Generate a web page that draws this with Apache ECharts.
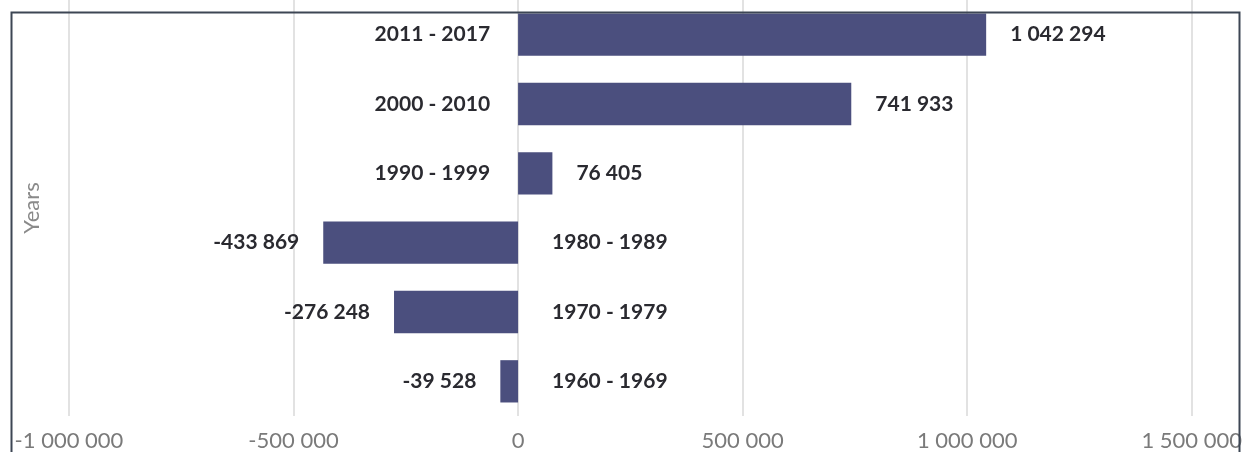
<!DOCTYPE html>
<html>
<head>
<meta charset="utf-8">
<script src="https://cdn.jsdelivr.net/npm/echarts@6/dist/echarts.min.js"></script>
<style>
html,body{margin:0;padding:0;background:#fff;}
#chart{width:1245px;height:452px;}
</style>
</head>
<body>
<div id="chart"></div>
<script>
// Data (bottom to top)
const categories = ['1960 - 1969', '1970 - 1979', '1980 - 1989', '1990 - 1999', '2000 - 2010', '2011 - 2017'];
const values = [-39528, -276248, -433869, 76405, 741933, 1042294];
const axisName = 'Years';
const xMin = -1000000, xMax = 1500000, xStep = 500000;

function fmt(v) {
  const s = Math.abs(Math.round(v)).toString().replace(/\B(?=(\d{3})+(?!\d))/g, ' ');
  return (v < 0 ? '-' : '') + s;
}

const FONT = 'Lato';
const barColor = '#4b4f7e';
const textColor = '#2a2a30';

const chart = echarts.init(document.getElementById('chart'));
chart.setOption({
  animation: false,
  backgroundColor: '#ffffff',
  grid: { left: 69, right: 52, top: 0, bottom: 36, containLabel: false },
  xAxis: {
    type: 'value',
    min: xMin, max: xMax, interval: xStep,
    axisLine: { show: false },
    axisTick: { show: false },
    splitLine: { show: true, lineStyle: { color: '#d9d9d9', width: 1.5 } },
    axisLabel: {
      formatter: fmt,
      color: '#7a7a7a', fontFamily: FONT, fontSize: 22, margin: 14
    }
  },
  yAxis: {
    type: 'category',
    data: categories,
    name: axisName,
    nameLocation: 'middle',
    nameGap: 26,
    nameTextStyle: { color: '#8a8a8a', fontFamily: FONT, fontSize: 22 },
    axisLine: { show: false },
    axisTick: { show: false },
    axisLabel: { show: false },
    splitLine: { show: false }
  },
  series: [
    {
      type: 'bar',
      barCategoryGap: '39%',
      data: values.map(v => ({
        value: v,
        label: { position: v >= 0 ? 'right' : 'left' }
      })),
      itemStyle: { color: barColor },
      label: {
        show: true,
        distance: 24,
        formatter: p => fmt(p.value),
        color: textColor, fontFamily: FONT, fontSize: 21, fontWeight: 'bold'
      },
      z: 3
    },
    {
      type: 'scatter',
      symbolSize: 0,
      silent: true,
      itemStyle: { opacity: 1 },
      data: categories.map((c, i) => ({
        value: [0, c],
        label: { position: values[i] >= 0 ? 'left' : 'right', distance: values[i] >= 0 ? 28 : 34 }
      })),
      label: {
        show: true,
        formatter: p => p.value[1],
        color: textColor, fontFamily: FONT, fontSize: 21, fontWeight: 'bold'
      },
      z: 4
    }
  ],
  graphic: [
    {
      type: 'rect',
      shape: { x: 11.5, y: 12.5, width: 1228, height: 445 },
      style: { fill: null, stroke: '#3d4654', lineWidth: 2 },
      z: 100,
      silent: true
    }
  ]
});
</script>
</body>
</html>
